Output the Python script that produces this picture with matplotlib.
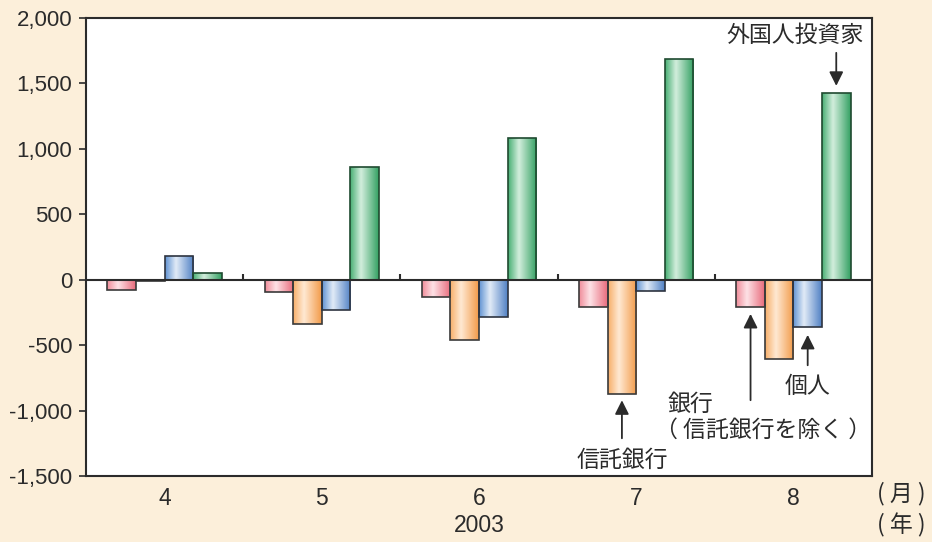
import numpy as np
import matplotlib.pyplot as plt
import matplotlib.transforms as mtransforms
from matplotlib.colors import LinearSegmentedColormap

# 投資部門別の売買差額（億円）
months = ['4', '5', '6', '7', '8']
year_label = '2003'
banks = [-75, -95, -130, -205, -210]          # 銀行（信託銀行を除く）
trust_banks = [-12, -335, -460, -875, -605]   # 信託銀行
individuals = [180, -235, -285, -85, -365]    # 個人
foreigners = [50, 865, 1085, 1690, 1425]      # 外国人投資家
yticks = [-1500, -1000, -500, 0, 500, 1000, 1500, 2000]

BG = '#FCEFDA'
INK = '#2b2b2b'
JP = ['Noto Sans CJK JP', 'DejaVu Sans']
JP_SIZE = 16.5

plt.rcParams['font.family'] = ['Liberation Sans', 'Noto Sans CJK JP']

# (edge-side, highlight, far-side) colours for the cylinder shading
shades = [
    ('#F08C99', '#FDE2E6', '#E86A7B'),
    ('#F7AE68', '#FFE9D3', '#F29A48'),
    ('#5F92D2', '#E2EBF7', '#4F80C4'),
    ('#46AE72', '#D3EEDD', '#33A062'),
]
edges = ['#3a3a3a', '#3a3a3a', '#2e3440', '#1f4a30']


def shade_bars(ax, bars, c0, c1, c2):
    cmap = LinearSegmentedColormap.from_list('shade', [(0, c0), (0.38, c1), (1, c2)])
    grad = np.linspace(0, 1, 256).reshape(1, -1)
    for b in bars:
        x0, y0 = b.get_x(), b.get_y()
        w, h = b.get_width(), b.get_height()
        im = ax.imshow(grad, cmap=cmap, aspect='auto', interpolation='bicubic',
                       extent=(x0, x0 + w, y0, y0 + h), zorder=1.9)
        im.set_clip_path(b)
        b.set_facecolor('none')


fig = plt.figure(figsize=(9.32, 5.42), dpi=100, facecolor=BG)
ax = fig.add_axes([86 / 932, 66 / 542, 786 / 932, 458 / 542])
ax.set_facecolor('white')

x = np.arange(len(months))
w = 0.727 / 4
series = [banks, trust_banks, individuals, foreigners]
for i, vals in enumerate(series):
    bars = ax.bar(x + (i - 1.5) * w, vals, w, edgecolor=edges[i], linewidth=1.2, zorder=2)
    shade_bars(ax, bars, *shades[i])

ax.axhline(0, color=INK, lw=1.5, zorder=3)
ax.vlines(x[:-1] + 0.5, 0, 45, color=INK, lw=1.5, zorder=3)

ax.set_xlim(-0.5, len(months) - 0.5)
ax.set_ylim(-1500, 2000)
ax.set_yticks(yticks)
ax.set_yticklabels([f'{v:,}' for v in yticks])
ax.tick_params(axis='y', direction='out', length=5, width=1.2, color=INK,
               labelsize=16, labelcolor=INK, pad=5)
ax.set_xticks(x)
ax.set_xticklabels(months)
ax.tick_params(axis='x', length=0, labelsize=16.5, labelcolor=INK, pad=8)
for s in ax.spines.values():
    s.set_color(INK)
    s.set_linewidth(1.5)

# 年・単位の表記
trans = mtransforms.blended_transform_factory(ax.transData, fig.transFigure)
ax.text(2, 1 - 526 / 542, year_label, transform=trans, ha='center', va='center',
        fontsize=16.5, color=INK)
fig.text(901 / 932, 1 - 494 / 542, '( 月 )', family=JP, ha='center', va='center',
         fontsize=JP_SIZE, color=INK)
fig.text(901 / 932, 1 - 525 / 542, '( 年 )', family=JP, ha='center', va='center',
         fontsize=JP_SIZE, color=INK)

# 系列ラベルと矢印
arrow = dict(arrowstyle='-|>', color=INK, lw=1.3, mutation_scale=21)
x_bank = x[4] - 1.5 * w
x_trust = x[3] - 0.5 * w
x_indiv = x[4] + 0.5 * w
x_foreign = x[4] + 1.5 * w

ax.annotate('', xy=(x_trust, trust_banks[3] - 25), xytext=(x_trust, -1233),
            arrowprops=arrow)
ax.text(x_trust, -1379, '信託銀行', family=JP, ha='center', va='center',
        fontsize=JP_SIZE, color=INK)

ax.annotate('', xy=(x_bank, banks[4] - 30), xytext=(x_bank, -942), arrowprops=arrow)
ax.text(3.2, -950, '銀行', family=JP, ha='left', va='center', fontsize=JP_SIZE,
        color=INK)
ax.text(3.12, -1149, '（ 信託銀行を除く ）', family=JP, ha='left', va='center',
        fontsize=JP_SIZE, color=INK)

ax.annotate('', xy=(x_indiv, individuals[4] - 35), xytext=(x_indiv, -675),
            arrowprops=arrow)
ax.text(x_indiv, -812, '個人', family=JP, ha='center', va='center', fontsize=JP_SIZE,
        color=INK)

ax.annotate('', xy=(x_foreign, foreigners[4] + 35), xytext=(x_foreign, 1755),
            arrowprops=arrow)
ax.text(4.01, 1870, '外国人投資家', family=JP, ha='center', va='center',
        fontsize=JP_SIZE, color=INK)

fig.savefig('out.png', dpi=100, facecolor=BG)
